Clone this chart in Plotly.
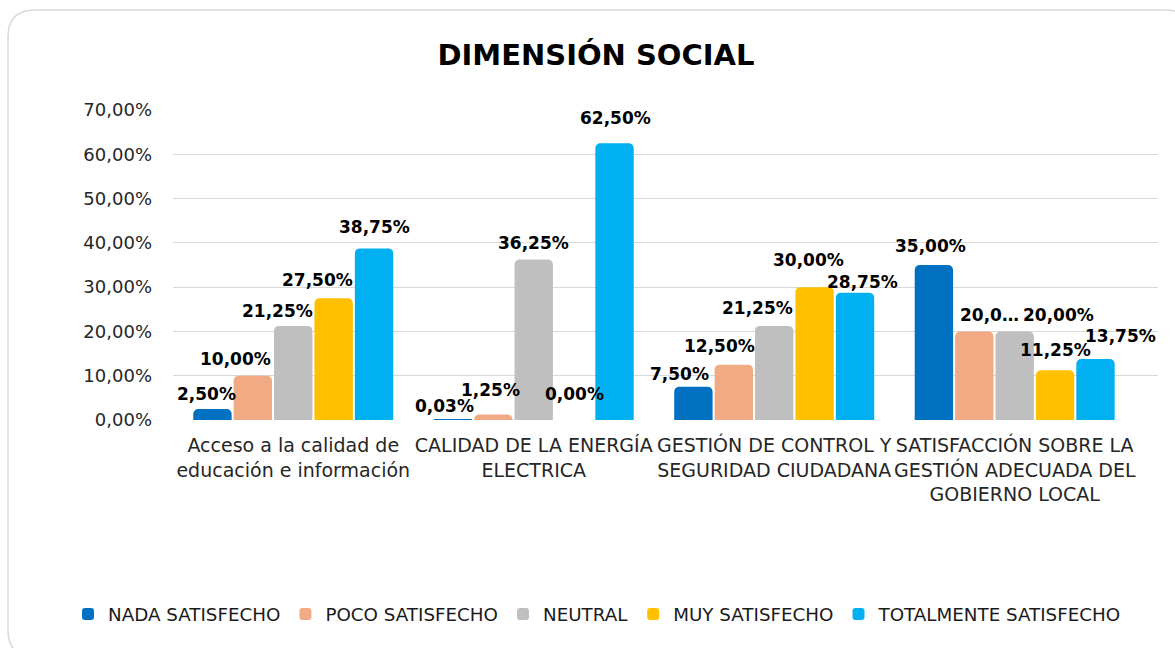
import plotly.graph_objects as go

# ---------------- data ----------------
categories = [
    "Acceso a la calidad de<br>educación e información",
    "CALIDAD DE LA ENERGÍA<br>ELECTRICA",
    "GESTIÓN DE CONTROL Y<br>SEGURIDAD CIUDADANA",
    "SATISFACCIÓN SOBRE LA<br>GESTIÓN ADECUADA DEL<br>GOBIERNO LOCAL",
]
series_names = ["NADA SATISFECHO", "POCO SATISFECHO", "NEUTRAL",
                "MUY SATISFECHO", "TOTALMENTE SATISFECHO"]
nada = [0.0250, 0.0003, 0.0750, 0.3500]
poco = [0.1000, 0.0125, 0.1250, 0.2000]
neutral = [0.2125, 0.3625, 0.2125, 0.2000]
muy = [0.2750, 0.0000, 0.3000, 0.1125]
totalmente = [0.3875, 0.6250, 0.2875, 0.1375]
series_values = [nada, poco, neutral, muy, totalmente]

y_tick_vals = [0.0, 0.1, 0.2, 0.3, 0.4, 0.5, 0.6, 0.7]
y_tick_labels = ["0,00%", "10,00%", "20,00%", "30,00%",
                 "40,00%", "50,00%", "60,00%", "70,00%"]

# label that the original chart shows truncated
truncated_labels = {(1, 3): "20,0…"}

# ---------------- style ----------------
colors = ["#0070C0", "#F2AA84", "#BFBFBF", "#FFC000", "#00B0F0"]
FONT = "DejaVu Sans"
BARGAP = 0.16
BARGROUPGAP = 0.05
# per-label manual nudges (pixels) as placed in the original chart
label_dx = [
    [-6, -8, -14, -3],
    [-17, -3, -14, 15],
    [-16, 0, -17, 44],
    [-16, 0, -6, 0],
    [0, 1, 7, 25],
]
label_gap = [
    [8, 7, 6, 12],
    [10, 17, 12, 9],
    [8, 9, 11, 9],
    [11, 19, 20, 13],
    [14, 18, 4, 16],
]


def fmt(v):
    return f"{v * 100:.2f}".replace(".", ",") + "%"


fig = go.Figure()
for name, vals, col in zip(series_names, series_values, colors):
    fig.add_trace(go.Bar(
        name=name, x=categories, y=vals,
        marker=dict(color=col, line=dict(width=0), cornerradius=5),
        hoverinfo="skip",
    ))

n = len(series_values)
slot = (1 - BARGAP) / n
annotations = []
for i, vals in enumerate(series_values):
    for j, v in enumerate(vals):
        txt = truncated_labels.get((i, j), fmt(v))
        annotations.append(dict(
            x=j + (i - (n - 1) / 2) * slot, y=v, xref="x", yref="y",
            text=txt, showarrow=False, xanchor="center", yanchor="bottom",
            xshift=label_dx[i][j], yshift=label_gap[i][j] - 5,
            font=dict(family=FONT, size=17, color="#000000", weight="bold"),
        ))

# rounded chart border (pixel geometry converted to paper coordinates)
W, H = 1175, 648
PL, PR, PT, PB = 173, 1158, 110, 420


def px(x):
    return (x - PL) / (PR - PL)


def py(y):
    return (PB - y) / (PB - PT)


L, T, R, B, rad = 8, 10, 1192, 657, 27
border_path = (
    f"M {px(L)},{py(T + rad)} Q {px(L)},{py(T)} {px(L + rad)},{py(T)} "
    f"L {px(R - rad)},{py(T)} Q {px(R)},{py(T)} {px(R)},{py(T + rad)} "
    f"L {px(R)},{py(B - rad)} Q {px(R)},{py(B)} {px(R - rad)},{py(B)} "
    f"L {px(L + rad)},{py(B)} Q {px(L)},{py(B)} {px(L)},{py(B - rad)} Z"
)

fig.update_layout(
    width=W, height=H,
    margin=dict(l=PL, r=W - PR, t=PT, b=H - PB, pad=0, autoexpand=False),
    paper_bgcolor="white", plot_bgcolor="white",
    barmode="group", bargap=BARGAP, bargroupgap=BARGROUPGAP,
    title=dict(text="DIMENSIÓN SOCIAL", x=596 / W, xanchor="center",
               y=1 - 55 / H, yanchor="middle",
               font=dict(family=FONT, size=29, color="#000000", weight="bold")),
    font=dict(family=FONT, color="#262626"),
    legend=dict(orientation="h", x=px(68), xanchor="left",
                y=py(614), yanchor="middle",
                font=dict(family=FONT, size=18.3, color="#1a1a1a"),
                itemwidth=30, traceorder="normal", bgcolor="rgba(0,0,0,0)"),
    xaxis=dict(type="category", tickangle=0, showgrid=False, showline=False,
               ticks="", ticklabelstandoff=12,
               tickfont=dict(family=FONT, size=19, color="#262626"),
               fixedrange=True),
    yaxis=dict(range=[0, 0.7], tickvals=y_tick_vals, ticktext=y_tick_labels,
               showgrid=True, gridcolor="#D9D9D9", gridwidth=1.3,
               zeroline=False, showline=False, ticks="",
               ticklabelstandoff=20,
               tickfont=dict(family=FONT, size=18, color="#262626"),
               fixedrange=True),
    annotations=annotations,
    shapes=[dict(type="path", path=border_path, xref="paper", yref="paper",
                 line=dict(color="#D9D9D9", width=1.5), fillcolor="rgba(0,0,0,0)",
                 layer="below")],
    showlegend=True,
)

fig.write_html("out.html", config={"displayModeBar": False},
               post_script="document.body.style.margin='0';")
